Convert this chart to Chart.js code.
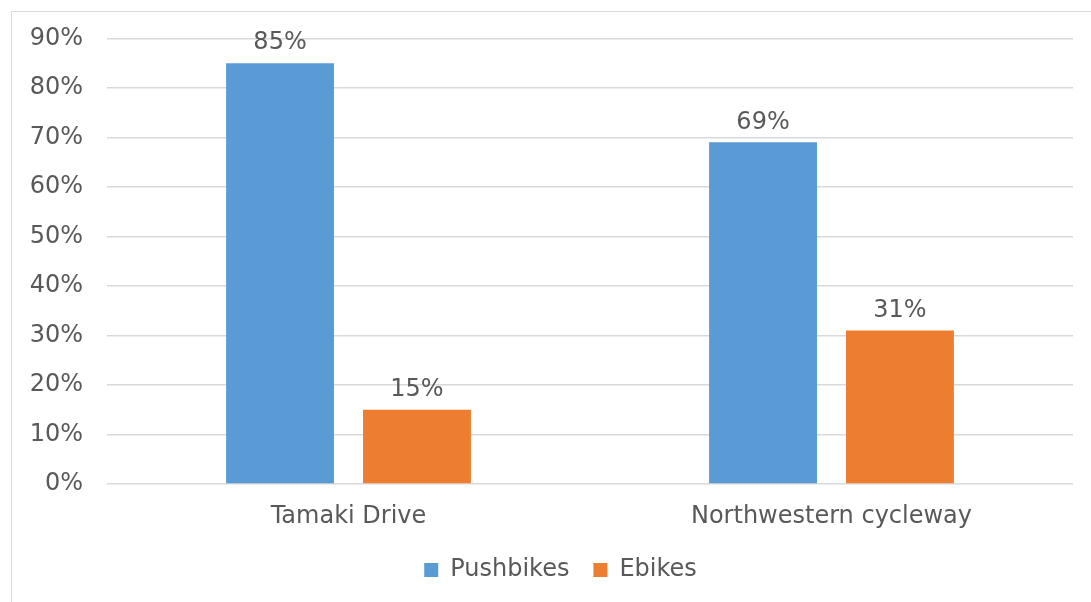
<!DOCTYPE html>
<html>
<head>
<meta charset="utf-8">
<script src="https://cdn.jsdelivr.net/npm/chart.js@4.4.0/dist/chart.umd.min.js"></script>
<style>
  body { margin: 0; background: #fff; }
  #wrap { position: relative; width: 1091px; height: 602px; overflow: hidden; }
  #frame { position: absolute; left: 11px; top: 11px; width: 1200px; height: 700px; border: 1px solid #d9d9d9; }
  #myChart { position: absolute; left: 0; top: 0; }
</style>
</head>
<body>
<div id="wrap">
  <div id="frame"></div>
  <canvas id="myChart" width="1091" height="602"></canvas>
</div>
<script>
const ctx = document.getElementById('myChart');

const locations = ['Tamaki Drive', 'Northwestern cycleway'];
const pushbikes = [85, 69];
const ebikes = [15, 31];
const yTicks = [0, 10, 20, 30, 40, 50, 60, 70, 80, 90];

const textColor = '#595959';
const fontFamily = '"DejaVu Sans", Verdana, sans-serif';

// percentage labels above each bar
const barLabels = {
    id: 'barLabels',
    afterDatasetsDraw(chart) {
        const c = chart.ctx;
        c.save();
        c.fillStyle = textColor;
        c.font = '24px ' + fontFamily;
        c.textAlign = 'center';
        c.textBaseline = 'bottom';
        chart.data.datasets.forEach((ds, i) => {
            chart.getDatasetMeta(i).data.forEach((bar, j) => {
                c.fillText(ds.data[j] + '%', bar.x, bar.y - 8);
            });
        });
        c.restore();
    }
};

// centre the legend under the framed area instead of the whole canvas
const legendShift = {
    id: 'legendShift',
    afterLayout(chart) {
        chart.legend.left += 24;
        chart.legend.right += 24;
    }
};

new Chart(ctx, {
    type: 'bar',
    data: {
        labels: locations,
        datasets: [{
            label: 'Pushbikes',
            data: pushbikes,
            backgroundColor: '#5b9bd5'
        }, {
            label: 'Ebikes',
            data: ebikes,
            backgroundColor: '#ed7d31'
        }]
    },
    options: {
        responsive: false,
        animation: false,
        categoryPercentage: 0.567,
        barPercentage: 0.788,
        layout: {
            padding: { left: 0, right: 18, top: 30, bottom: 10 }
        },
        plugins: {
            legend: {
                position: 'bottom',
                labels: {
                    boxWidth: 14,
                    boxHeight: 14,
                    padding: 24,
                    color: textColor,
                    font: { family: fontFamily, size: 24 }
                }
            },
            tooltip: { enabled: false }
        },
        scales: {
            x: {
                grid: { display: false },
                border: { display: false },
                afterFit(axis) { axis.height = 50; },
                ticks: {
                    color: textColor,
                    padding: 10,
                    font: { family: fontFamily, size: 24 }
                }
            },
            y: {
                min: 0,
                max: 90,
                afterBuildTicks(axis) {
                    axis.ticks = yTicks.map(v => ({ value: v }));
                },
                afterFit(axis) { axis.width = 107; },
                grid: { color: '#d9d9d9', lineWidth: 1.5, drawTicks: false },
                border: { display: false },
                ticks: {
                    color: textColor,
                    padding: 24,
                    font: { family: fontFamily, size: 24 },
                    callback: v => v + '%'
                }
            }
        }
    },
    plugins: [barLabels, legendShift]
});
</script>
</body>
</html>
